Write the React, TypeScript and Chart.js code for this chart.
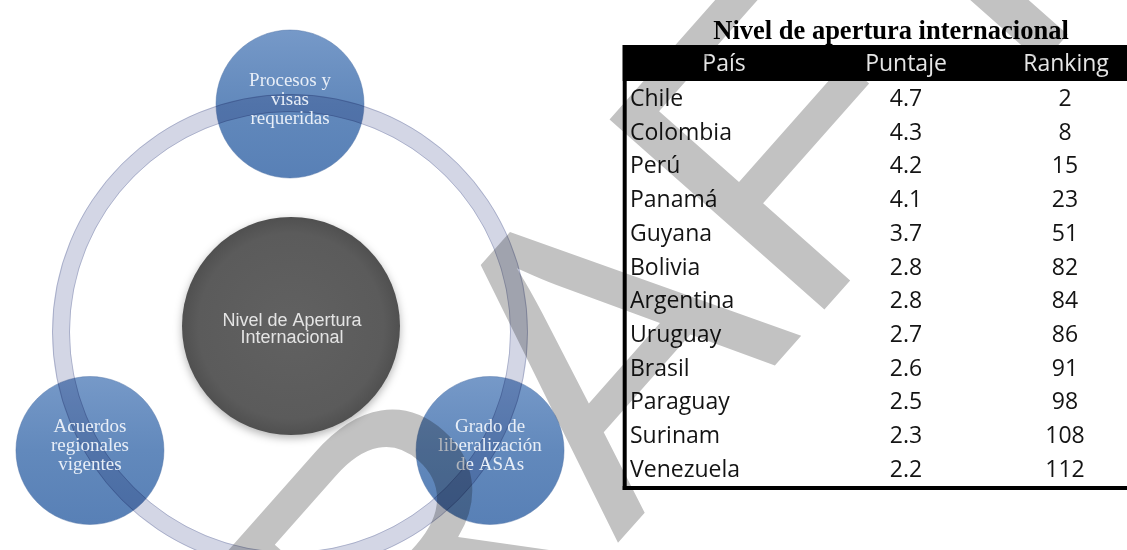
import React, { useEffect, useRef } from "react";
import { Chart, registerables } from "chart.js";

Chart.register(...registerables);

// ---------- data ----------
const countries = ["Chile", "Colombia", "Perú", "Panamá", "Guyana", "Bolivia", "Argentina", "Uruguay", "Brasil", "Paraguay", "Surinam", "Venezuela"];
const puntaje = [4.7, 4.3, 4.2, 4.1, 3.7, 2.8, 2.8, 2.7, 2.6, 2.5, 2.3, 2.2];
const ranking = [2, 8, 15, 23, 51, 82, 84, 86, 91, 98, 108, 112];
const tableTitle = "Nivel de apertura internacional";
const tableHeaders = ["País", "Puntaje", "Ranking"];
const centerLabel = ["Nivel de Apertura", "Internacional"];
const nodeLabels = [
  ["Procesos y", "visas", "requeridas"],
  ["Grado de", "liberalización", "de ASAs"],
  ["Acuerdos", "regionales", "vigentes"],
];
const nodeAngles = [-90, 30, 150];
const watermarkText = "DRAFT";

// ---------- layout ----------
const W = 1127;
const H = 550;
const RING = { cx: 290, cy: 332, r: 229, width: 18 };
const NODES = { cx: 290, cy: 335, dist: 231, r: 74, lineStep: 19, midOffset: 0.5 };
const CORE = { cx: 291, cy: 326, r: 109, lineStep: 17 };
const TABLE = {
  left: 622.7,
  border: 4,
  headerTop: 45,
  headerBottom: 81,
  bottom: 486,
  titleX: 891,
  titleY: 39,
  headerY: 71,
  headerX: [724, 906, 1066],
  colX: [630, 906, 1065],
  firstBaseline: 106,
  rowStep: 33.7,
};
const WM = { size: 417, angle: 48.5, ax: 490, ay: 245, color: "rgb(194,194,194)" };

const ytMin = -TABLE.firstBaseline / TABLE.rowStep;
const ytMax = ytMin + H / TABLE.rowStep;

const diagramPlugin = {
  id: "diagram",
  beforeDatasetsDraw(chart: any) {
    const ctx: CanvasRenderingContext2D = chart.ctx;
    const xs = chart.scales.x;
    const ys = chart.scales.y;
    const pr = (r: number) => Math.abs(xs.getPixelForValue(r) - xs.getPixelForValue(0));
    const nodes = chart.getDatasetMeta(0).data;
    const core = chart.getDatasetMeta(1).data[0];
    const rcx = xs.getPixelForValue(RING.cx);
    const rcy = ys.getPixelForValue(RING.cy);
    ctx.save();

    // blue nodes
    nodes.forEach((el: any) => {
      const r = pr(NODES.r);
      const g = ctx.createLinearGradient(el.x, el.y - r, el.x, el.y + r);
      g.addColorStop(0, "rgb(118,153,200)");
      g.addColorStop(0.5, "rgb(98,137,188)");
      g.addColorStop(1, "rgb(88,128,182)");
      ctx.beginPath();
      ctx.arc(el.x, el.y, r, 0, Math.PI * 2);
      ctx.fillStyle = g;
      ctx.fill();
      ctx.lineWidth = 1;
      ctx.strokeStyle = "rgba(75,110,165,0.45)";
      ctx.stroke();
    });

    // ring (multiplied over the nodes)
    ctx.globalCompositeOperation = "multiply";
    ctx.beginPath();
    ctx.arc(rcx, rcy, pr(RING.r), 0, Math.PI * 2);
    ctx.lineWidth = pr(RING.width);
    ctx.strokeStyle = "rgb(211,214,229)";
    ctx.stroke();
    ctx.lineWidth = 1;
    ctx.strokeStyle = "rgb(203,207,224)";
    [RING.r - RING.width / 2 + 0.5, RING.r + RING.width / 2 - 0.5].forEach((rr) => {
      ctx.beginPath();
      ctx.arc(rcx, rcy, pr(rr), 0, Math.PI * 2);
      ctx.stroke();
    });
    ctx.globalCompositeOperation = "source-over";

    // central circle
    const cr = pr(CORE.r);
    ctx.save();
    ctx.shadowColor = "rgba(0,0,0,0.3)";
    ctx.shadowBlur = 8;
    ctx.shadowOffsetY = 3;
    const rg = ctx.createRadialGradient(core.x, core.y, 0, core.x, core.y, cr);
    rg.addColorStop(0, "rgb(97,97,97)");
    rg.addColorStop(0.85, "rgb(91,91,91)");
    rg.addColorStop(1, "rgb(80,80,80)");
    ctx.beginPath();
    ctx.arc(core.x, core.y, cr, 0, Math.PI * 2);
    ctx.fillStyle = rg;
    ctx.fill();
    ctx.restore();

    // node labels
    ctx.textAlign = "center";
    ctx.textBaseline = "alphabetic";
    ctx.font = '19px "Liberation Serif"';
    ctx.fillStyle = "rgb(232,238,247)";
    nodes.forEach((el: any, i: number) => {
      const lines = nodeLabels[i];
      lines.forEach((t, k) => {
        const y = el.y + NODES.midOffset + (k - (lines.length - 1) / 2) * NODES.lineStep;
        ctx.fillText(t, el.x, y);
      });
    });

    // center label
    ctx.font = '18px "Liberation Sans"';
    ctx.fillStyle = "rgb(228,228,228)";
    centerLabel.forEach((t, k) => {
      ctx.fillText(t, core.x + 1, core.y + k * CORE.lineStep);
    });
    ctx.restore();
  },
};

const tablePlugin = {
  id: "tabla",
  afterDatasetsDraw(chart: any) {
    const ctx: CanvasRenderingContext2D = chart.ctx;
    ctx.save();
    // title
    ctx.fillStyle = "#000";
    ctx.font = 'bold 26.5px "Liberation Serif"';
    ctx.textAlign = "center";
    ctx.textBaseline = "alphabetic";
    ctx.fillText(tableTitle, TABLE.titleX, TABLE.titleY);
    // header bar and borders
    ctx.fillStyle = "#000";
    ctx.fillRect(TABLE.left, TABLE.headerTop, W - TABLE.left, TABLE.headerBottom - TABLE.headerTop);
    ctx.fillRect(TABLE.left, TABLE.headerTop, TABLE.border, TABLE.bottom + TABLE.border - TABLE.headerTop);
    ctx.fillRect(TABLE.left, TABLE.bottom, W - TABLE.left, TABLE.border);
    // headers
    ctx.font = '23px "Open Sans"';
    ctx.fillStyle = "rgb(230,230,230)";
    tableHeaders.forEach((h, i) => ctx.fillText(h, TABLE.headerX[i], TABLE.headerY));
    // rows
    ctx.fillStyle = "#141414";
    const colMeta = [2, 3, 4].map((d) => chart.getDatasetMeta(d).data);
    colMeta[0].forEach((el: any, i: number) => {
      ctx.textAlign = "left";
      ctx.fillText(countries[i], el.x, el.y);
    });
    colMeta[1].forEach((el: any, i: number) => {
      ctx.textAlign = "center";
      ctx.fillText(puntaje[i].toFixed(1), el.x, el.y);
    });
    colMeta[2].forEach((el: any, i: number) => {
      ctx.textAlign = "center";
      ctx.fillText(String(ranking[i]), el.x, el.y);
    });
    ctx.restore();
  },
};

const watermarkPlugin = {
  id: "watermark",
  afterDraw(chart: any) {
    const ctx: CanvasRenderingContext2D = chart.ctx;
    ctx.save();
    ctx.globalCompositeOperation = "multiply";
    ctx.fillStyle = WM.color;
    ctx.font = `${WM.size}px "Liberation Sans"`;
    ctx.textAlign = "left";
    ctx.textBaseline = "alphabetic";
    const idx = watermarkText.indexOf("A");
    const pre = ctx.measureText(watermarkText.slice(0, idx)).width;
    const mA = ctx.measureText("A");
    const ox = pre + mA.width / 2;
    const oy = -mA.actualBoundingBoxAscent;
    const th = (-WM.angle * Math.PI) / 180;
    const rx = ox * Math.cos(th) - oy * Math.sin(th);
    const ry = ox * Math.sin(th) + oy * Math.cos(th);
    ctx.translate(WM.ax - rx, WM.ay - ry);
    ctx.rotate(th);
    ctx.fillText(watermarkText, 0, 0);
    ctx.restore();
  },
};

export default function App() {
  const ref = useRef<HTMLCanvasElement>(null);
  useEffect(() => {
    document.body.style.margin = "0";
    const canvas = ref.current!;
    const nodePoints = nodeAngles.map((a) => ({
      x: NODES.cx + NODES.dist * Math.cos((a * Math.PI) / 180),
      y: NODES.cy + NODES.dist * Math.sin((a * Math.PI) / 180),
    }));
    const chart = new Chart(canvas, {
      type: "scatter",
      data: {
        datasets: [
          { label: "nodos", data: nodePoints, pointRadius: 0, xAxisID: "x", yAxisID: "y" },
          { label: "centro", data: [{ x: CORE.cx, y: CORE.cy }], pointRadius: 0, xAxisID: "x", yAxisID: "y" },
          { label: "País", data: countries.map((_, i) => ({ x: TABLE.colX[0], y: i })), pointRadius: 0, xAxisID: "x", yAxisID: "yt" },
          { label: "Puntaje", data: puntaje.map((_, i) => ({ x: TABLE.colX[1], y: i })), pointRadius: 0, xAxisID: "x", yAxisID: "yt" },
          { label: "Ranking", data: ranking.map((_, i) => ({ x: TABLE.colX[2], y: i })), pointRadius: 0, xAxisID: "x", yAxisID: "yt" },
        ],
      },
      options: {
        responsive: false,
        animation: false,
        devicePixelRatio: 1,
        events: [],
        layout: { padding: 0 },
        plugins: { legend: { display: false }, tooltip: { enabled: false } },
        scales: {
          x: { type: "linear", min: 0, max: W, display: false },
          y: { type: "linear", min: 0, max: H, reverse: true, display: false },
          yt: { type: "linear", min: ytMin, max: ytMax, reverse: true, display: false },
        },
      },
      plugins: [diagramPlugin, tablePlugin, watermarkPlugin],
    } as any);
    return () => chart.destroy();
  }, []);
  return (
    <div style={{ width: W, height: H, position: "relative", background: "#fff" }}>
      <canvas ref={ref} width={W} height={H} style={{ display: "block" }} />
    </div>
  );
}
